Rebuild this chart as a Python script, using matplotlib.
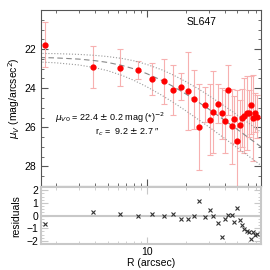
import matplotlib
matplotlib.use("Agg")
import matplotlib.pyplot as plt
from matplotlib.ticker import MultipleLocator, NullFormatter, FixedLocator, FixedFormatter, LogLocator

plt.rcParams['font.family'] = ['Liberation Sans', 'DejaVu Sans']

# radius (arcsec), surface brightness, errors, residuals
R = [1.65, 3.85, 6.27, 8.63, 11.0, 13.5, 15.9, 18.4, 20.7, 23.2,
     25.5, 28.1, 30.5, 32.7, 35.2, 37.8, 40.0, 42.2, 45.3, 47.3,
     49.3, 52.0, 54.0, 56.5, 58.7, 61.6, 63.9, 65.7, 68.3, 71.2]
mu = [21.77, 22.9, 22.95, 23.07, 23.53, 23.65, 24.09, 23.92, 24.16, 24.56,
      25.99, 24.85, 25.6, 25.2, 24.8, 25.28, 25.7, 24.09, 25.95, 25.58,
      26.70, 25.9, 25.53, 25.4, 25.26, 25.28, 24.85, 25.51, 25.26, 25.45]
err = [1.15, 1.07, 0.94, 0.45, 0.8, 1.15, 1.3, 0.7, 2.0, 1.5,
       2.2, 0.9, 1.8, 2.1, 1.0, 1.3, 1.6, 1.3, 1.9, 1.2,
       2.6, 1.3, 1.5, 1.9, 1.9, 1.2, 1.5, 2.2, 1.0, 1.1]
resid = [-0.65, 0.31, 0.13, 0.0, 0.13, 0.0, 0.13, -0.26, -0.26, -0.05,
         1.18, -0.1, 0.45, -0.05, -0.6, -1.7, -0.3, 0.05, 0.05, -0.47,
         0.57, -0.34, -0.78, -1.04, -1.25, -1.3, -1.88, -1.3, -1.56, -1.44]

# model curve and its bounds
Rm = [1.5, 2, 3, 4, 5, 6.5, 8, 10, 13, 16, 20, 25, 30, 36, 43, 50, 60, 76]
mod = [22.43, 22.45, 22.51, 22.59, 22.68, 22.84, 23.01, 23.25, 23.59, 23.91,
       24.29, 24.71, 25.06, 25.43, 25.80, 26.11, 26.50, 27.00]
mod_hi = [22.22, 22.23, 22.27, 22.32, 22.38, 22.48, 22.60, 22.78, 23.05, 23.32,
          23.66, 24.03, 24.37, 24.72, 25.07, 25.38, 25.75, 26.25]
mod_lo = [22.66, 22.70, 22.81, 22.95, 23.10, 23.35, 23.60, 23.92, 24.35, 24.72,
          25.15, 25.60, 25.97, 26.35, 26.73, 27.05, 27.44, 27.95]

fig = plt.figure(figsize=(2.7, 2.7), dpi=100)
ax = fig.add_axes([0.152, 0.311, 0.815, 0.652])
ax2 = fig.add_axes([0.152, 0.096, 0.815, 0.211])

spine_c = '#555555'
ax.errorbar(R, mu, yerr=err, fmt='none', ecolor='#f7b0b0', elinewidth=0.8, capsize=2, capthick=0.8, zorder=2)
ax.plot(R, mu, 'o', color='red', markersize=3.5, zorder=3)
ax.plot(Rm, mod, '--', color='#888888', lw=0.8, dashes=(5, 3))
ax.plot(Rm, mod_hi, ':', color='#999999', lw=0.8)
ax.plot(Rm, mod_lo, ':', color='#999999', lw=0.8)

ax.set_xscale('log')
ax.set_xlim(1.54, 76)
ax.set_ylim(29, 20)
ax.yaxis.set_major_locator(FixedLocator([22, 24, 26, 28]))
ax.yaxis.set_minor_locator(MultipleLocator(0.5))
ax.xaxis.set_major_locator(FixedLocator([10]))
ax.xaxis.set_minor_locator(LogLocator(subs=range(2, 10)))
ax.xaxis.set_major_formatter(NullFormatter())
ax.xaxis.set_minor_formatter(NullFormatter())
ax.tick_params(which='both', direction='in', top=True, right=True, colors=spine_c, labelcolor='black', labelsize=7.5)
ax.tick_params(which='major', length=5, width=0.8)
ax.tick_params(which='minor', length=2.5, width=0.6)
for s in ax.spines.values():
    s.set_color(spine_c)
    s.set_linewidth(0.8)
ax.set_ylabel(r'$\mu_V$ (mag/arcsec$^2$)', fontsize=7.5, labelpad=2)

ax.text(0.73, 0.93, 'SL647', transform=ax.transAxes, fontsize=7.5, ha='center', va='center')
ax.text(0.065, 0.39, r'$\mu_{V0}$ = 22.4 $\pm$ 0.2 mag (*)$^{-2}$', transform=ax.transAxes,
        fontsize=6.5, ha='left', va='center')
ax.text(0.245, 0.305, r'r$_c$ =  9.2 $\pm$ 2.7 ″', transform=ax.transAxes,
        fontsize=6.5, ha='left', va='center')

# residuals
grey = '#c8c8c8'
ax2.axhline(0, color=grey, lw=1.5, zorder=1)
ax2.plot(R, resid, 'x', color='#333333', markersize=3, mew=0.8, zorder=3)
ax2.set_xscale('log')
ax2.set_xlim(1.54, 76)
ax2.set_ylim(-2.25, 2.25)
ax2.yaxis.set_major_locator(MultipleLocator(1))
ax2.yaxis.set_minor_locator(MultipleLocator(0.25))
ax2.xaxis.set_major_locator(FixedLocator([10]))
ax2.xaxis.set_major_formatter(FixedFormatter(['10']))
ax2.xaxis.set_minor_locator(LogLocator(subs=range(2, 10)))
ax2.xaxis.set_minor_formatter(NullFormatter())
ax2.tick_params(which='both', direction='in', top=True, right=True, colors=grey, labelcolor='black', labelsize=7.5)
ax2.tick_params(which='major', length=5, width=0.8, pad=2)
ax2.tick_params(which='minor', length=2.5, width=0.6)
for s in ax2.spines.values():
    s.set_color(grey)
    s.set_linewidth(1.5)
ax2.set_ylabel('residuals', fontsize=7.5, labelpad=4)
ax2.set_xlabel('R (arcsec)', fontsize=7.5, labelpad=1)

fig.savefig('out.png', dpi=100)
